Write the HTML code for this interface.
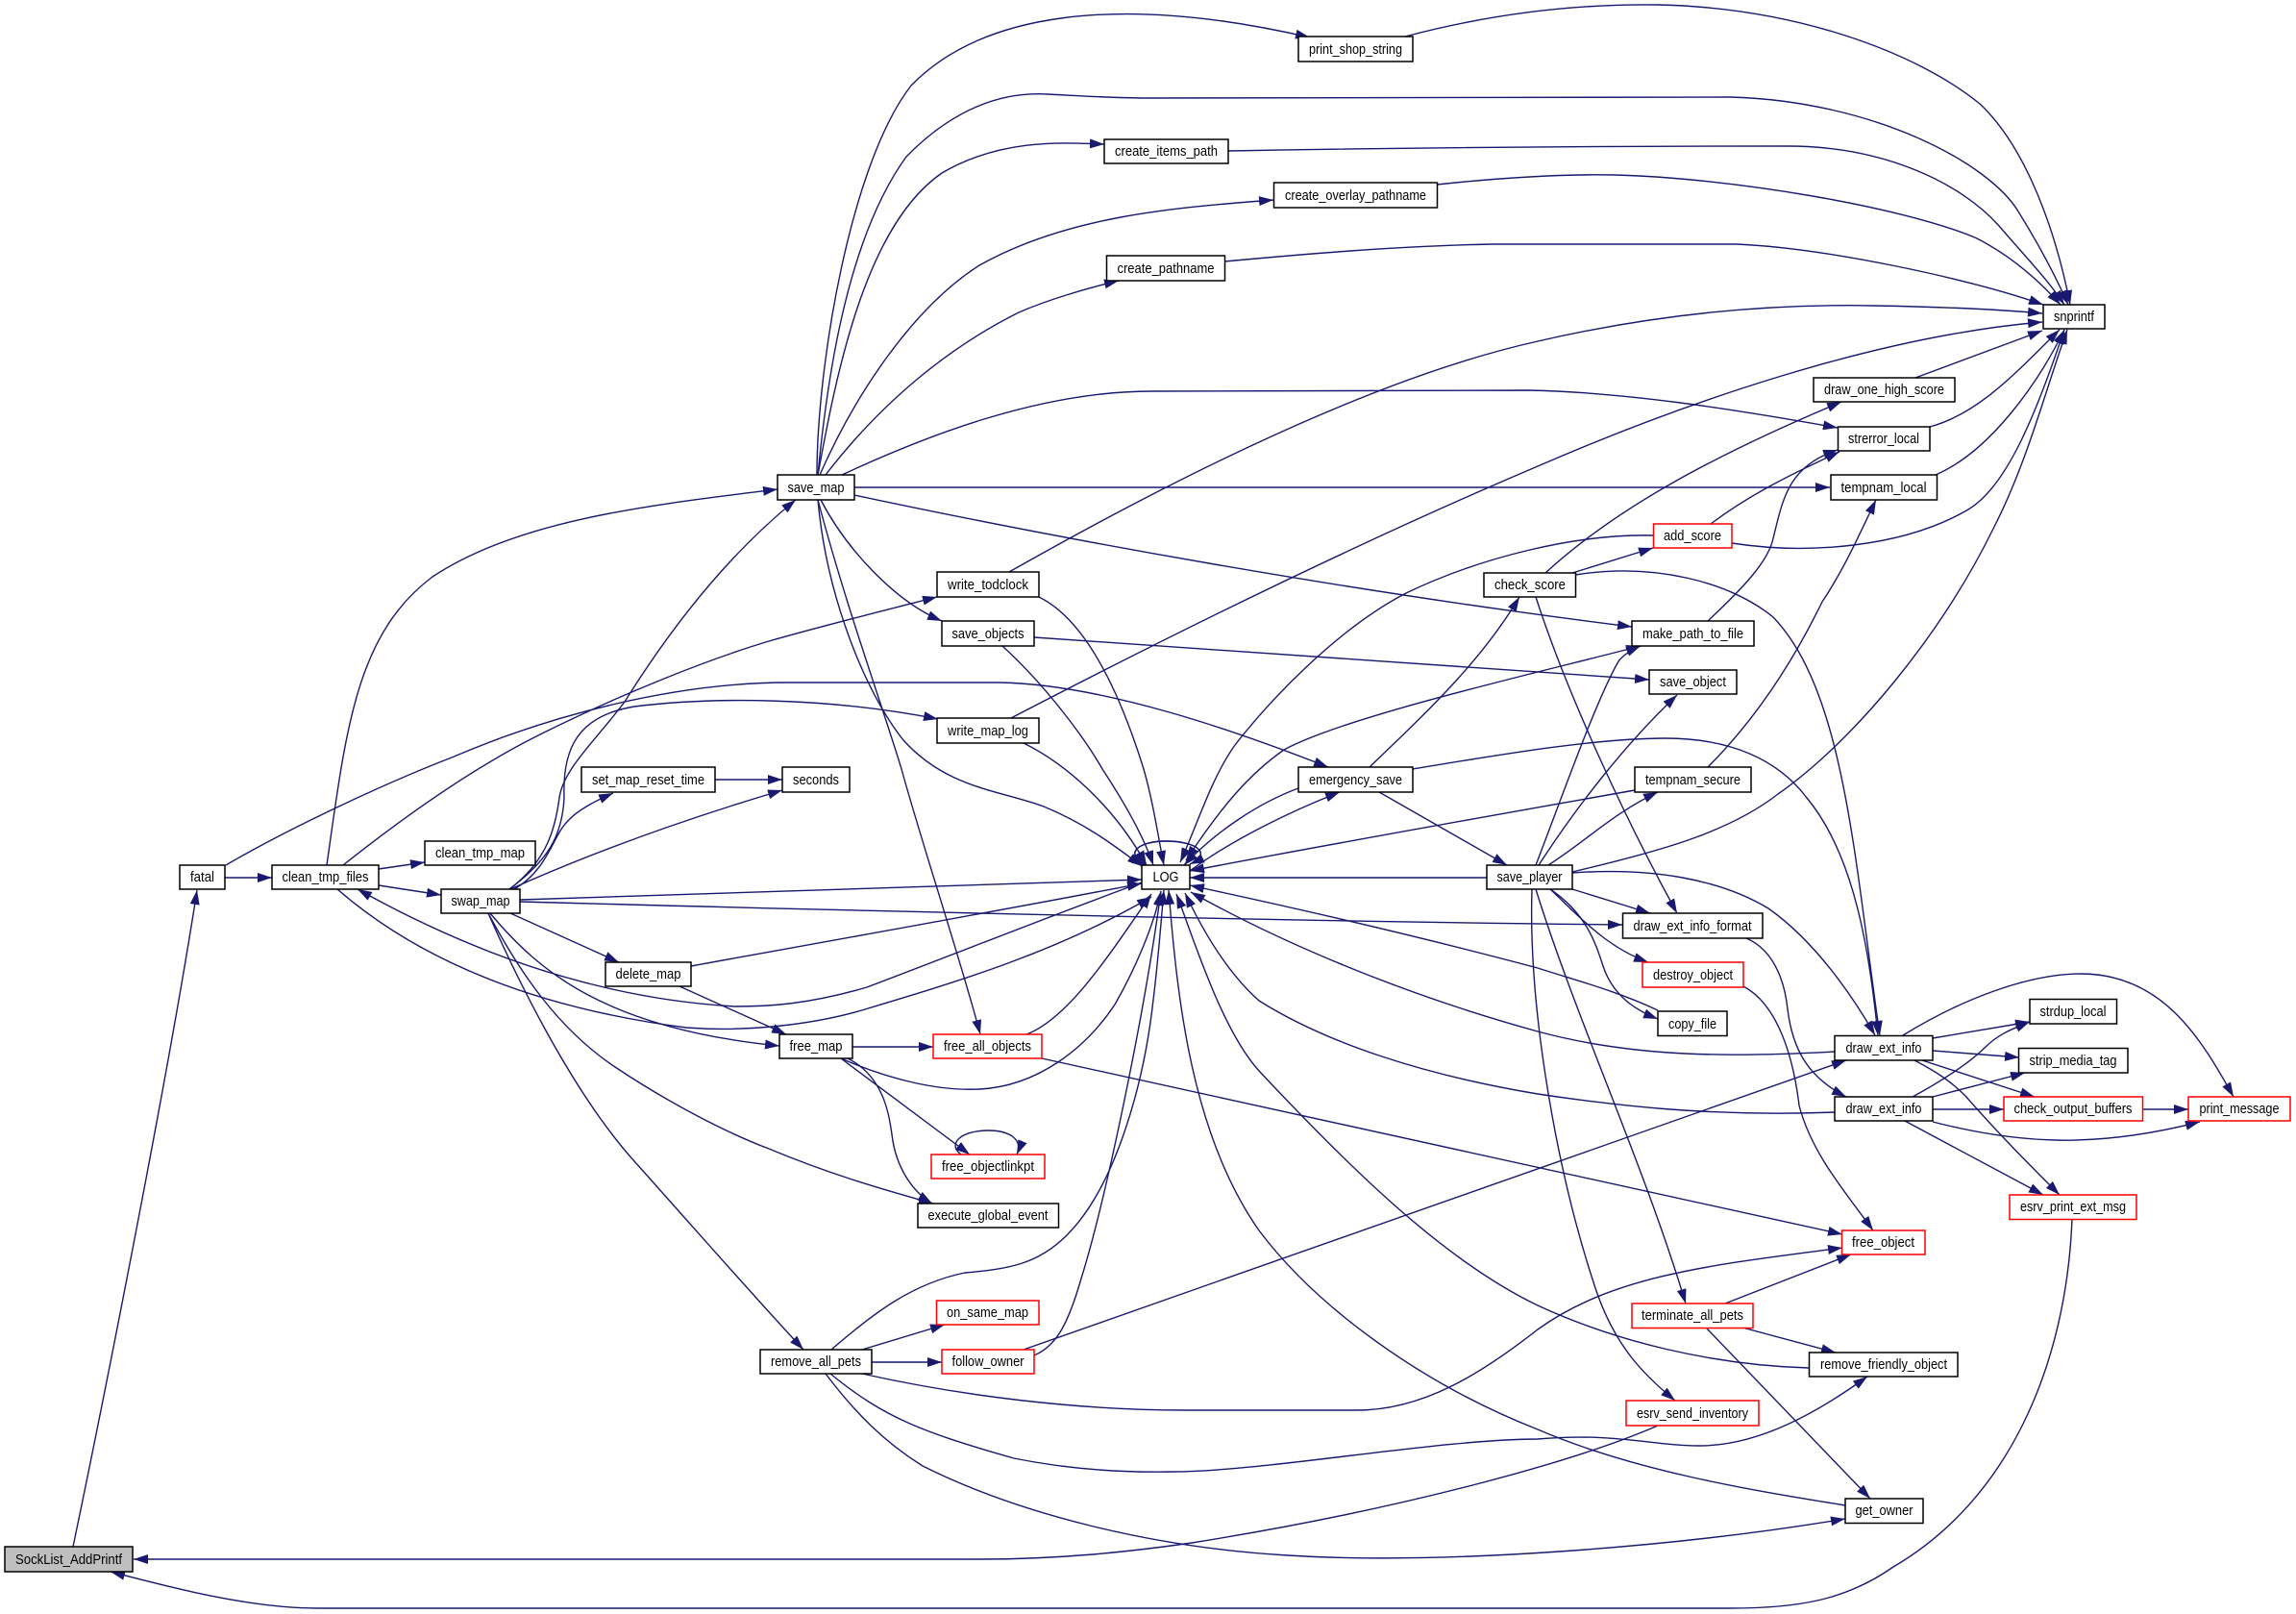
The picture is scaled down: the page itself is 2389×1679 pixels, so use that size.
<!DOCTYPE html>
<html><head><meta charset="utf-8"><style>
html,body{margin:0;padding:0;background:#fff}
svg{display:block}
text{font-family:"Liberation Sans",sans-serif;font-size:15px;fill:#000;text-anchor:middle}
.e path{fill:none;stroke:#191970;stroke-width:1.4;marker-end:url(#a)}
.e path.n{marker-end:none}
.b rect{fill:#fff;stroke:#000;stroke-width:1.5}
.b rect.r{stroke:#f00}
.b rect.g{fill:#bfbfbf}
</style></head><body>
<svg xmlns="http://www.w3.org/2000/svg" width="2389" height="1679" viewBox="0 0 2389 1679">
<defs><marker id="a" markerUnits="userSpaceOnUse" markerWidth="18" markerHeight="12" refX="15" refY="5" orient="auto-start-reverse"><path d="M0 0L15 5L0 10z" fill="#191970"/></marker></defs>
<rect width="2389" height="1679" fill="#fff"/>
<g class="e">
<path d="M76 1609C105 1470 175 1120 205 926"/>
<path d="M1725 1483C1640 1520 1460 1570 1240 1605C1170 1615 1100 1622 1020 1622L139 1622"/>
<path d="M2156 1268C2150 1420 2090 1560 1970 1630C1920 1665 1870 1673 1800 1673L330 1673C260 1673 180 1652 115 1635"/>
<path d="M234 913L283 913"/>
<path d="M235 900C300 862 400 815 470 788C570 745 700 710 820 710L1040 710C1150 712 1290 762 1382 798"/>
<path d="M340 900C360 760 370 660 450 600C540 540 680 525 809 509"/>
<path d="M357 900C420 850 490 800 560 765C650 720 740 685 800 667C860 650 920 635 975 621"/>
<path d="M394 904L442 897"/>
<path d="M394 921L459 931"/>
<path d="M1188 918C1100 950 1000 990 902 1027C840 1045 800 1047 765 1047C640 1040 510 1002 372 925"/>
<path d="M351 925C420 985 530 1045 714 1069C780 1074 850 1065 900 1050C1000 1020 1100 990 1198 933"/>
<path d="M530 925C570 895 578 860 582 830C586 800 620 770 650 730C700 650 760 575 828 520"/>
<path d="M530 925C570 895 585 870 587 830C585 780 600 745 660 735C740 725 860 725 976 748"/>
<path d="M535 925C570 905 575 870 590 855C600 843 620 833 638 825"/>
<path d="M531 925C620 885 720 850 814 822"/>
<path d="M744 811L814 811"/>
<path d="M541 936C800 928 1000 920 1188 915"/>
<path d="M541 938C800 945 1300 958 1688 962"/>
<path d="M531 950L644 1001"/>
<path d="M719 1005C800 990 1000 955 1188 919"/>
<path d="M707 1026L818 1076"/>
<path d="M510 950C560 1010 630 1070 811 1088"/>
<path d="M508 950C540 1010 580 1070 640 1110C700 1150 760 1180 800 1195C860 1220 910 1235 971 1252"/>
<path d="M508 950C530 1000 590 1130 660 1208C720 1275 790 1355 836 1404"/>
<path d="M850 494C850 380 885 170 948 89C1020 15 1160 -8 1363 39"/>
<path class="n" d="M851 494C860 400 880 250 943 163C990 115 1040 95 1090 98C1130 100 1160 102 1193 102L1800 101C1950 105 2070 170 2100 220"/>
<path d="M2100 220C2125 260 2140 290 2152 317"/>
<path d="M851 494C870 390 900 235 980 180C1040 145 1100 148 1149 150"/>
<path d="M1278 157C1500 153 1700 152 1860 152C1960 152 2040 190 2080 235C2110 270 2130 290 2148 317"/>
<path d="M853 494C890 410 950 320 1019 276C1110 225 1220 216 1325 208"/>
<path d="M1495 192C1570 184 1630 181 1680 182C1800 185 1980 215 2057 248C2090 265 2120 290 2144 317"/>
<path d="M859 494C920 415 990 360 1060 325C1090 312 1130 300 1164 292"/>
<path d="M1274 272C1350 265 1450 256 1552 254L1807 254C1900 258 2050 290 2126 317"/>
<path d="M876 494C960 455 1080 407 1198 407L1590 406C1690 408 1800 425 1912 445"/>
<path d="M889 507L1904 507"/>
<path d="M889 515C1100 560 1400 615 1698 652"/>
<path d="M854 520C880 570 930 625 980 646"/>
<path d="M851 520C880 630 920 740 938 800C960 880 1000 1000 1020 1076"/>
<path d="M851 520C860 620 900 720 940 770C985 820 1040 822 1086 839C1130 857 1160 880 1188 901"/>
<path d="M1462 38C1560 12 1650 4 1725 5C1870 8 1995 55 2060 108C2110 155 2140 245 2154 317"/>
<path d="M1050 595C1200 510 1420 395 1600 355C1730 325 1850 316 1950 318C2010 319 2070 321 2125 326"/>
<path d="M1081 621C1130 645 1165 720 1190 800C1200 835 1205 870 1211 900"/>
<path d="M1076 663L1716 707"/>
<path d="M1043 672C1090 715 1130 770 1147 800C1170 835 1190 870 1200 900"/>
<path d="M1052 747C1200 670 1400 570 1600 485C1750 420 1950 350 2125 335"/>
<path d="M1065 773C1110 795 1160 840 1193 900"/>
<path d="M1351 820C1310 835 1265 865 1232 900"/>
<path d="M1238 906C1280 875 1340 845 1394 824"/>
<path d="M1435 824L1568 900"/>
<path d="M1425 798C1480 745 1540 690 1581 621"/>
<path d="M1234 895C1270 840 1300 805 1336 780C1400 745 1600 700 1707 672" style="marker-start:url(#a)"/>
<path d="M1720 557C1640 555 1540 580 1463 617C1390 655 1320 730 1285 775C1260 810 1245 860 1228 897"/>
<path d="M1608 596C1680 530 1780 475 1916 418"/>
<path d="M1636 596L1720 570"/>
<path d="M1780 545C1820 515 1860 495 1914 470"/>
<path d="M1802 565C1880 577 1980 570 2048 530C2090 505 2120 425 2148 343"/>
<path d="M1993 393L2125 344"/>
<path d="M2008 444C2060 430 2100 385 2143 343"/>
<path d="M2014 494C2070 470 2120 400 2148 343"/>
<path d="M1777 646C1810 615 1840 585 1845 560C1855 520 1860 485 1912 468"/>
<path d="M1639 598C1720 585 1800 605 1845 642C1920 720 1930 900 1956 1077"/>
<path d="M1598 621C1630 720 1690 850 1745 950"/>
<path d="M1470 800C1560 785 1660 768 1733 768C1800 768 1850 790 1880 830C1930 890 1945 990 1954 1077"/>
<path d="M1777 798C1820 755 1860 700 1896 626C1920 590 1935 555 1952 520"/>
<path d="M1701 822C1600 840 1400 875 1238 906"/>
<path d="M1547 913L1238 913"/>
<path d="M1636 907C1730 885 1800 865 1850 826C1930 770 2020 660 2074 550C2110 480 2130 400 2151 343"/>
<path d="M1598 900C1625 830 1660 730 1684 688C1690 680 1700 675 1707 672"/>
<path d="M1601 900C1640 840 1690 775 1745 723"/>
<path d="M1611 900C1650 875 1680 845 1725 824"/>
<path d="M1636 908C1720 902 1790 915 1840 945C1890 980 1930 1040 1951 1077"/>
<path d="M1636 925L1717 950"/>
<path d="M1613 925C1640 950 1670 985 1715 1001"/>
<path d="M1613 925C1650 950 1660 980 1668 1005C1678 1035 1700 1050 1725 1060"/>
<path d="M1598 925C1640 1060 1710 1210 1754 1356"/>
<path d="M1594 925C1590 1050 1620 1220 1660 1340C1680 1400 1710 1430 1743 1457"/>
<path d="M1725 1051C1680 1030 1640 1020 1600 1007C1480 975 1350 945 1238 921"/>
<path d="M1909 1094C1800 1100 1700 1100 1600 1073C1480 1040 1350 990 1239 928"/>
<path d="M1909 1157C1780 1162 1680 1150 1600 1138C1480 1118 1380 1085 1310 1041C1275 1010 1250 965 1233 929"/>
<path d="M1882 1423C1780 1420 1680 1395 1600 1358C1500 1310 1400 1210 1310 1114C1270 1070 1240 970 1224 930"/>
<path d="M1920 1566C1820 1550 1700 1530 1600 1487C1480 1440 1370 1360 1310 1280C1240 1180 1225 1040 1216 926"/>
<path d="M887 1089L971 1089"/>
<path d="M875 1101C930 1125 980 1135 1019 1133C1080 1130 1130 1090 1160 1045C1180 1010 1200 965 1208 927"/>
<path d="M1068 1076C1110 1060 1150 1000 1198 930"/>
<path d="M1084 1101L1917 1284"/>
<path d="M875 1101L1009 1201"/>
<path d="M1000 1201C985 1190 1000 1176 1028 1176C1050 1176 1065 1185 1058 1201"/>
<path d="M882 1101C920 1120 925 1160 928 1180C932 1215 950 1240 970 1252"/>
<path d="M897 1404L983 1378"/>
<path d="M907 1417L980 1417"/>
<path d="M865 1404C910 1365 950 1335 1004 1324C1050 1320 1080 1315 1110 1285C1160 1235 1190 1130 1200 1040C1205 1000 1208 960 1211 926"/>
<path d="M1076 1410C1100 1400 1112 1375 1125 1330C1150 1250 1190 1060 1208 927"/>
<path d="M1065 1404L1921 1103"/>
<path d="M897 1429C1000 1452 1120 1467 1234 1467L1412 1467C1480 1467 1540 1430 1600 1383C1680 1325 1790 1315 1917 1298"/>
<path d="M864 1429C920 1475 960 1490 1055 1517C1120 1530 1180 1532 1223 1531C1320 1530 1500 1497 1600 1497C1680 1490 1720 1504 1768 1504C1830 1504 1890 1470 1943 1432"/>
<path d="M859 1429C890 1470 920 1500 960 1525C1060 1575 1200 1610 1340 1618C1500 1628 1740 1610 1920 1580"/>
<path d="M1795 1356L1926 1305"/>
<path d="M1813 1381L1910 1407"/>
<path d="M1775 1381L1946 1559"/>
<path d="M1817 976C1850 990 1858 1030 1860 1050C1865 1090 1880 1120 1921 1141"/>
<path d="M1814 1026C1850 1045 1866 1100 1872 1150C1885 1200 1920 1240 1949 1280"/>
<path d="M2011 1080L2112 1063"/>
<path d="M2011 1093L2101 1100"/>
<path d="M2000 1103L2117 1141"/>
<path d="M1980 1077C2040 1040 2110 1013 2165 1013C2250 1013 2290 1080 2324 1141"/>
<path d="M1992 1103C2015 1115 2030 1125 2045 1140C2080 1180 2110 1210 2143 1243"/>
<path d="M1990 1141C2020 1125 2050 1105 2065 1090C2080 1075 2095 1070 2112 1063"/>
<path d="M2011 1141L2107 1116"/>
<path d="M2011 1154L2085 1154"/>
<path d="M2011 1167C2100 1190 2180 1195 2289 1167"/>
<path d="M1982 1166L2126 1243"/>
<path d="M2230 1154L2277 1154"/>
<path d="M1193 900C1168 888 1185 875 1213 875C1245 875 1262 888 1238 899"/>
<path d="M1238 899C1262 888 1245 875 1213 875C1185 875 1168 888 1193 900"/>
</g>
<g class="b">
<rect class="g" x="5" y="1609" width="133" height="26"/><text x="71.5" y="1627" textLength="111" lengthAdjust="spacingAndGlyphs">SockList_AddPrintf</text>
<rect x="187" y="900" width="47" height="25"/><text x="210.5" y="917" textLength="25" lengthAdjust="spacingAndGlyphs">fatal</text>
<rect x="283" y="900" width="111" height="25"/><text x="338.5" y="917" textLength="90" lengthAdjust="spacingAndGlyphs">clean_tmp_files</text>
<rect x="442" y="875" width="115" height="25"/><text x="499.5" y="892" textLength="93" lengthAdjust="spacingAndGlyphs">clean_tmp_map</text>
<rect x="459" y="925" width="82" height="25"/><text x="500" y="942" textLength="61" lengthAdjust="spacingAndGlyphs">swap_map</text>
<rect x="605" y="798" width="139" height="26"/><text x="674.5" y="816" textLength="117" lengthAdjust="spacingAndGlyphs">set_map_reset_time</text>
<rect x="630" y="1001" width="89" height="25"/><text x="674.5" y="1018" textLength="68" lengthAdjust="spacingAndGlyphs">delete_map</text>
<rect x="1351" y="38" width="119" height="26"/><text x="1410.5" y="56" textLength="97" lengthAdjust="spacingAndGlyphs">print_shop_string</text>
<rect x="1149" y="145" width="129" height="25"/><text x="1213.5" y="162" textLength="107" lengthAdjust="spacingAndGlyphs">create_items_path</text>
<rect x="1325.5" y="190" width="170" height="26"/><text x="1410.5" y="208" textLength="147" lengthAdjust="spacingAndGlyphs">create_overlay_pathname</text>
<rect x="1151.5" y="266" width="123" height="26"/><text x="1213" y="284" textLength="101" lengthAdjust="spacingAndGlyphs">create_pathname</text>
<rect x="809" y="494" width="80" height="26"/><text x="849" y="512" textLength="59" lengthAdjust="spacingAndGlyphs">save_map</text>
<rect x="975" y="595" width="106" height="26"/><text x="1028" y="613" textLength="84" lengthAdjust="spacingAndGlyphs">write_todclock</text>
<rect x="980" y="646" width="96" height="26"/><text x="1028" y="664" textLength="75" lengthAdjust="spacingAndGlyphs">save_objects</text>
<rect x="975" y="747" width="106" height="26"/><text x="1028" y="765" textLength="84" lengthAdjust="spacingAndGlyphs">write_map_log</text>
<rect x="814" y="798" width="70" height="26"/><text x="849" y="816" textLength="48" lengthAdjust="spacingAndGlyphs">seconds</text>
<rect x="1351" y="798" width="119" height="26"/><text x="1410.5" y="816" textLength="97" lengthAdjust="spacingAndGlyphs">emergency_save</text>
<rect x="1188" y="900" width="50" height="25"/><text x="1213" y="917" textLength="27" lengthAdjust="spacingAndGlyphs">LOG</text>
<rect x="1547" y="900" width="89" height="25"/><text x="1591.5" y="917" textLength="68" lengthAdjust="spacingAndGlyphs">save_player</text>
<rect x="811" y="1076" width="76" height="25"/><text x="849" y="1093" textLength="55" lengthAdjust="spacingAndGlyphs">free_map</text>
<rect class="r" x="971" y="1076" width="113" height="25"/><text x="1027.5" y="1093" textLength="91" lengthAdjust="spacingAndGlyphs">free_all_objects</text>
<rect class="r" x="969" y="1201" width="118" height="25"/><text x="1028" y="1218" textLength="96" lengthAdjust="spacingAndGlyphs">free_objectlinkpt</text>
<rect x="955" y="1252" width="146.500" height="25"/><text x="1028" y="1269" textLength="125" lengthAdjust="spacingAndGlyphs">execute_global_event</text>
<rect class="r" x="974.500" y="1353" width="106.500" height="25"/><text x="1027.500" y="1370" textLength="85" lengthAdjust="spacingAndGlyphs">on_same_map</text>
<rect class="r" x="980" y="1404" width="96" height="25"/><text x="1028" y="1421" textLength="75" lengthAdjust="spacingAndGlyphs">follow_owner</text>
<rect x="791" y="1404" width="116" height="25"/><text x="849" y="1421" textLength="94" lengthAdjust="spacingAndGlyphs">remove_all_pets</text>
<rect x="2126" y="317" width="64" height="25"/><text x="2158" y="334" textLength="42" lengthAdjust="spacingAndGlyphs">snprintf</text>
<rect x="1887" y="393" width="147" height="25"/><text x="1960.500" y="410" textLength="125" lengthAdjust="spacingAndGlyphs">draw_one_high_score</text>
<rect x="1912.500" y="444" width="95.500" height="25"/><text x="1960" y="461" textLength="74" lengthAdjust="spacingAndGlyphs">strerror_local</text>
<rect x="1905" y="494" width="110.500" height="26"/><text x="1960" y="512" textLength="89" lengthAdjust="spacingAndGlyphs">tempnam_local</text>
<rect class="r" x="1720.500" y="545" width="81.500" height="25"/><text x="1761" y="562" textLength="60" lengthAdjust="spacingAndGlyphs">add_score</text>
<rect x="1544" y="596" width="95.500" height="25"/><text x="1592" y="613" textLength="74" lengthAdjust="spacingAndGlyphs">check_score</text>
<rect x="1698" y="646" width="127" height="26"/><text x="1761.500" y="664" textLength="105" lengthAdjust="spacingAndGlyphs">make_path_to_file</text>
<rect x="1716" y="697" width="91" height="25"/><text x="1761.500" y="714" textLength="69" lengthAdjust="spacingAndGlyphs">save_object</text>
<rect x="1701" y="798" width="121" height="26"/><text x="1761.500" y="816" textLength="99" lengthAdjust="spacingAndGlyphs">tempnam_secure</text>
<rect x="1688.500" y="950" width="145.500" height="26"/><text x="1761" y="968" textLength="123" lengthAdjust="spacingAndGlyphs">draw_ext_info_format</text>
<rect class="r" x="1709" y="1001" width="105" height="26"/><text x="1761.500" y="1019" textLength="83" lengthAdjust="spacingAndGlyphs">destroy_object</text>
<rect x="1725" y="1052" width="72" height="25.500"/><text x="1761" y="1070" textLength="50" lengthAdjust="spacingAndGlyphs">copy_file</text>
<rect x="1909" y="1077.500" width="102" height="25.500"/><text x="1960" y="1095" textLength="79" lengthAdjust="spacingAndGlyphs">draw_ext_info</text>
<rect x="2112" y="1039.500" width="90.500" height="25.500"/><text x="2157" y="1057" textLength="69" lengthAdjust="spacingAndGlyphs">strdup_local</text>
<rect x="2100.500" y="1090.500" width="113.500" height="25.500"/><text x="2157" y="1108" textLength="91" lengthAdjust="spacingAndGlyphs">strip_media_tag</text>
<rect x="1909" y="1141" width="102" height="25"/><text x="1960" y="1158" textLength="79" lengthAdjust="spacingAndGlyphs">draw_ext_info</text>
<rect class="r" x="2085" y="1141" width="144.500" height="25"/><text x="2157" y="1158" textLength="123" lengthAdjust="spacingAndGlyphs">check_output_buffers</text>
<rect class="r" x="2277" y="1141" width="106" height="25"/><text x="2330" y="1158" textLength="83" lengthAdjust="spacingAndGlyphs">print_message</text>
<rect class="r" x="2091" y="1243" width="132" height="25.500"/><text x="2157" y="1260" textLength="110" lengthAdjust="spacingAndGlyphs">esrv_print_ext_msg</text>
<rect class="r" x="1916.500" y="1280" width="86.500" height="25"/><text x="1959.500" y="1297" textLength="65" lengthAdjust="spacingAndGlyphs">free_object</text>
<rect class="r" x="1698" y="1356" width="126" height="25.500"/><text x="1761" y="1373" textLength="106" lengthAdjust="spacingAndGlyphs">terminate_all_pets</text>
<rect x="1882.500" y="1407" width="154.500" height="25"/><text x="1960" y="1424" textLength="132" lengthAdjust="spacingAndGlyphs">remove_friendly_object</text>
<rect class="r" x="1692" y="1457" width="138" height="26"/><text x="1761" y="1475" textLength="116" lengthAdjust="spacingAndGlyphs">esrv_send_inventory</text>
<rect x="1920" y="1559" width="81" height="25.500"/><text x="1960.500" y="1576" textLength="60" lengthAdjust="spacingAndGlyphs">get_owner</text>
</g>
</svg>
</body></html>
